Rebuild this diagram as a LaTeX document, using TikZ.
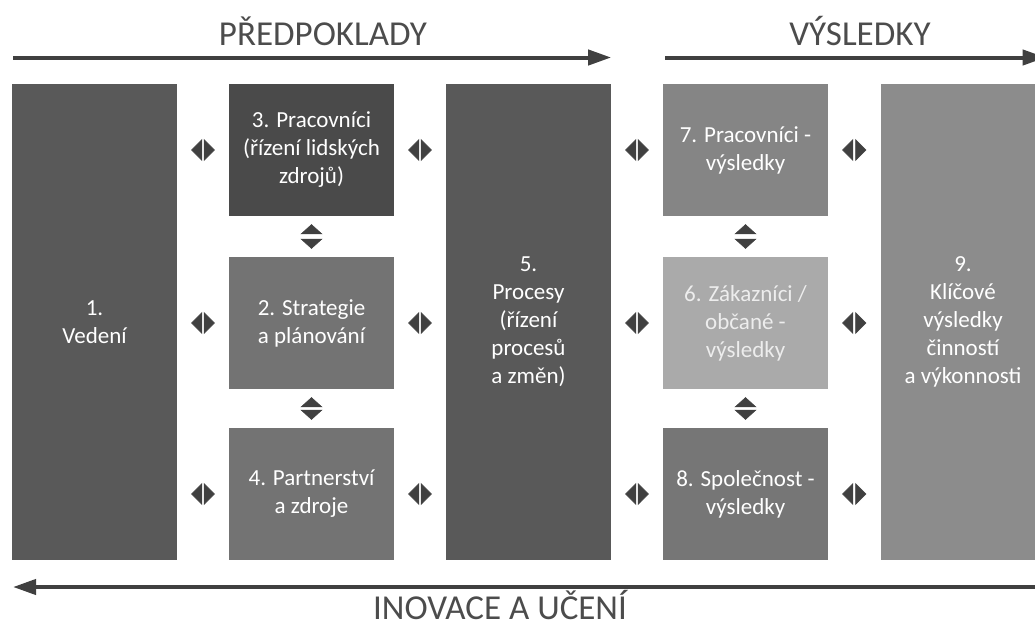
\documentclass[tikz,border=0pt]{standalone}
\usepackage{fontspec}
\setmainfont{Carlito}
\usetikzlibrary{arrows.meta}
\definecolor{arrowgray}{RGB}{64,64,64}
\definecolor{leadgray}{RGB}{89,89,89}
\definecolor{peoplegray}{RGB}{74,74,74}
\definecolor{stratgray}{RGB}{115,115,115}
\definecolor{procgray}{RGB}{89,89,89}
\definecolor{peopleresgray}{RGB}{133,133,133}
\definecolor{custgray}{RGB}{170,170,170}
\definecolor{socgray}{RGB}{118,118,118}
\definecolor{keygray}{RGB}{140,140,140}

\begin{document}
\begin{tikzpicture}[x=1pt,y=-1pt,
    box/.style={inner sep=0pt,minimum width=165pt,text=white,align=center,font=\fontsize{23}{28}\selectfont},
    tallbox/.style={box,minimum height=476pt},
    smallbox/.style={box,minimum height=132pt},
    link/.style={white,line width=0.5pt,{Triangle[length=11pt,width=22pt,color=arrowgray]}-{Triangle[length=11pt,width=22pt,color=arrowgray]},shorten <=14pt,shorten >=14pt},
    vlink/.style={white,line width=0.5pt,{Triangle[length=10pt,width=22pt,color=arrowgray]}-{Triangle[length=10pt,width=22pt,color=arrowgray]},shorten <=8pt,shorten >=8pt},
    flow/.style={arrowgray,line width=4pt,-{Triangle[length=23pt,width=15pt]}},
    heading/.style={anchor=base,text=black!70,font=\fontsize{35}{40}\selectfont}]
    \useasboundingbox (0,0) rectangle (1035,627);
    \clip (0,0) rectangle (1035,627);
    \node[tallbox,fill=leadgray] (b1) at (94.5,322) {1.\\Vedení};
    \node[smallbox,fill=peoplegray] (b3) at (311.5,150) {3. Pracovníci\\(řízení lidských\\zdrojů)};
    \node[smallbox,fill=stratgray] (b2) at (311.5,323) {2. Strategie\\a plánování};
    \node[smallbox,fill=stratgray] (b4) at (311.5,494) {4. Partnerství\\a zdroje};
    \node[tallbox,fill=procgray] (b5) at (528.5,322) {5.\\Procesy\\(řízení\\procesů\\a změn)};
    \node[smallbox,fill=peopleresgray] (b7) at (745.5,150) {7. Pracovníci -\\výsledky};
    \node[smallbox,fill=custgray,text=white!93!black] (b6) at (745.5,323) {6. Zákazníci /\\občané -\\výsledky};
    \node[smallbox,fill=socgray] (b8) at (745.5,494) {8. Společnost -\\výsledky};
    \node[tallbox,fill=keygray] (b9) at (963,322) {9.\\Klíčové\\výsledky\\činností\\a výkonnosti};
    \draw[link] (b1.east |- b3.west) -- (b3.west);
    \draw[link] (b1.east |- b2.west) -- (b2.west);
    \draw[link] (b1.east |- b4.west) -- (b4.west);
    \draw[link] (b3.east) -- (b5.west |- b3.east);
    \draw[link] (b2.east) -- (b5.west |- b2.east);
    \draw[link] (b4.east) -- (b5.west |- b4.east);
    \draw[link] (b5.east |- b7.west) -- (b7.west);
    \draw[link] (b5.east |- b6.west) -- (b6.west);
    \draw[link] (b5.east |- b8.west) -- (b8.west);
    \draw[link] (b7.east) -- (b9.west |- b7.east);
    \draw[link] (b6.east) -- (b9.west |- b6.east);
    \draw[link] (b8.east) -- (b9.west |- b8.east);
    \draw[vlink] (b3.south) -- (b2.north);
    \draw[vlink] (b2.south) -- (b4.north);
    \draw[vlink] (b7.south) -- (b6.north);
    \draw[vlink] (b6.south) -- (b8.north);
    \coordinate (prestart) at (13,57.5);
    \coordinate (resstart) at (665,57.5);
    \coordinate (innostart) at (13,587);
    \draw[flow] (prestart) -- (b5.east |- prestart);
    \draw[flow] (resstart) -- (b9.east |- resstart);
    \draw[flow] (b9.east |- innostart) -- (innostart);
    \node[heading] (pre) at (323,45) {PŘEDPOKLADY};
    \node[heading] (res) at (860,45) {VÝSLEDKY};
    \node[heading] (inno) at (500,619) {INOVACE A UČENÍ};
\end{tikzpicture}
\end{document}
